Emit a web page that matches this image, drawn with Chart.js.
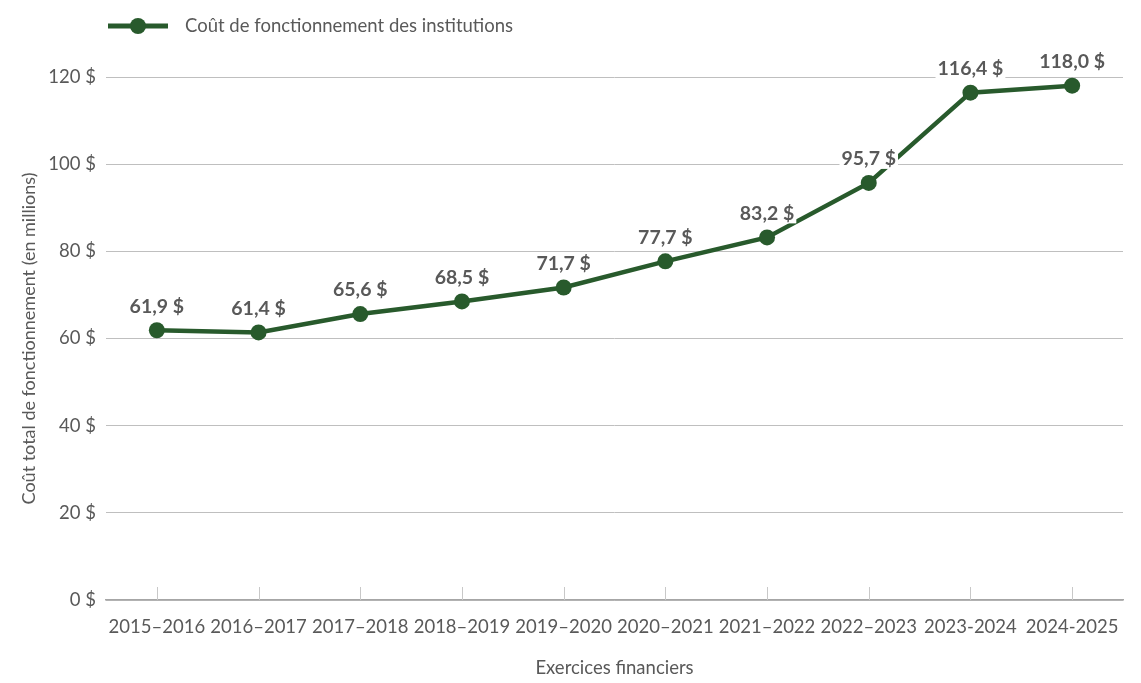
<!DOCTYPE html>
<html>
<head>
<meta charset="utf-8">
<script src="https://cdn.jsdelivr.net/npm/chart.js@4.4.1/dist/chart.umd.min.js"></script>
<style>
  html, body { margin: 0; padding: 0; background: #fff; }
  #wrap { width: 1141px; height: 683px; }
</style>
</head>
<body>
<div id="wrap"><canvas id="mycanvas"></canvas></div>
<script>
var years = ['2015–2016', '2016–2017', '2017–2018', '2018–2019', '2019–2020',
             '2020–2021', '2021–2022', '2022–2023', '2023-2024', '2024-2025'];
var cout = [61.9, 61.4, 65.6, 68.5, 71.7, 77.7, 83.2, 95.7, 116.4, 118.0];
var yTicks = [0, 20, 40, 60, 80, 100, 120];

var green = '#285A2C';
var grey = '#595959';
var font = 'Lato, "Noto Sans", sans-serif';

function money(v) {
  return v.toFixed(1).replace('.', ',') + ' $';
}

// legend line + dot drawn at top left
var legendPlugin = {
  id: 'legendLine',
  afterDraw: function(chart) {
    var c = chart.ctx;
    c.save();
    c.strokeStyle = green;
    c.lineWidth = 5;
    c.beginPath();
    c.moveTo(108, 26);
    c.lineTo(168, 26);
    c.stroke();
    c.fillStyle = green;
    c.beginPath();
    c.arc(138, 26, 8, 0, Math.PI * 2);
    c.fill();
    c.fillStyle = grey;
    c.font = '18.5px ' + font;
    c.textBaseline = 'middle';
    c.fillText(chart.data.datasets[0].label, 185, 26);
    c.restore();
  }
};

// small tick marks above the x axis, at each category
var tickPlugin = {
  id: 'xTicks',
  beforeDatasetsDraw: function(chart) {
    var c = chart.ctx, x = chart.scales.x, b = chart.chartArea.bottom;
    c.save();
    c.strokeStyle = '#C8C8C8';
    c.lineWidth = 1;
    for (var i = 0; i < years.length; i++) {
      var px = Math.round(x.getPixelForValue(i)) + 0.5;
      c.beginPath();
      c.moveTo(px, b - 13);
      c.lineTo(px, b);
      c.stroke();
    }
    c.restore();
  }
};

// value labels with white boxes above the points
var labelPlugin = {
  id: 'valueLabels',
  afterDatasetsDraw: function(chart) {
    var c = chart.ctx;
    var meta = chart.getDatasetMeta(0);
    c.save();
    c.font = 'bold 19.5px ' + font;
    c.textAlign = 'center';
    c.textBaseline = 'middle';
    meta.data.forEach(function(pt, i) {
      var txt = money(cout[i]);
      var w = c.measureText(txt).width;
      var y = pt.y - 24;
      c.fillStyle = '#fff';
      c.fillRect(pt.x - w / 2 - 2, y - 10, w + 4, 20);
      c.fillStyle = grey;
      c.fillText(txt, pt.x, y);
    });
    c.restore();
  }
};

var chartdata = {
  labels: years,
  datasets: [{
    label: 'Coût de fonctionnement des institutions',
    data: cout,
    borderColor: green,
    backgroundColor: green,
    borderWidth: 4.5,
    pointRadius: 8,
    pointHoverRadius: 8,
    pointBackgroundColor: green,
    pointBorderWidth: 0,
    tension: 0,
    clip: false
  }]
};

var ctx = document.getElementById('mycanvas');
var lineGraph = new Chart(ctx, {
  type: 'line',
  data: chartdata,
  plugins: [tickPlugin, labelPlugin, legendPlugin],
  options: {
    responsive: true,
    maintainAspectRatio: false,
    animation: false,
    layout: { padding: { top: 77, right: 18, left: 14, bottom: 0 } },
    plugins: {
      legend: { display: false },
      tooltip: { enabled: false }
    },
    scales: {
      x: {
        offset: true,
        grid: { display: false, drawTicks: false },
        border: { display: true, color: '#A6A6A6', width: 1.5 },
        ticks: { color: grey, font: { family: font, size: 18.5 }, padding: 16, maxRotation: 0 },
        title: { display: true, text: 'Exercices financiers', color: grey,
                 font: { family: font, size: 18.5 }, padding: { top: 6 } },
        afterFit: function(s) { s.height = 83; }
      },
      y: {
        min: 0,
        max: 120,
        afterBuildTicks: function(s) {
          s.ticks = yTicks.map(function(v) { return { value: v }; });
        },
        grid: { color: '#BFBFBF', lineWidth: 1, drawTicks: false },
        border: { display: false },
        ticks: {
          color: grey, padding: 10,
          font: { family: font, size: 18.5 },
          callback: function(v) { return v + ' $'; }
        },
        title: { display: true, text: 'Coût total de fonctionnement (en millions)', color: grey,
                 font: { family: font, size: 18 }, padding: { bottom: 4 } },
        afterFit: function(s) { s.width = 92; }
      }
    }
  }
});
</script>
</body>
</html>
